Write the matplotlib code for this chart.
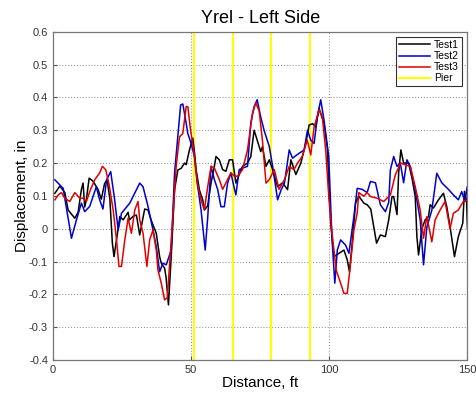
import matplotlib
matplotlib.use("Agg")
import matplotlib.pyplot as plt

plt.rcParams['font.family'] = ['Liberation Sans', 'DejaVu Sans']

# Test1 (black)
x1 = [0.7, 2.5, 4.3, 5.5, 7.9, 9.1, 10.3, 10.9, 11.5, 12.1, 13.1, 14.5, 16.3, 17.5, 18.7, 19.6,
      20.6, 21.5, 22.1, 23.0, 24.2, 25.4, 27.2, 27.7, 28.9, 30.2, 31.4, 33.2, 34.4, 35.5, 37.4,
      38.6, 39.2, 40.4, 40.9, 41.8, 42.8, 44.0, 45.2, 46.4, 47.6, 48.2, 49.4, 50.6, 51.2, 51.8,
      53.0, 54.2, 54.8, 56.0, 57.2, 58.4, 59.0, 60.2, 61.4, 62.6, 63.8, 65.0, 66.2, 67.4, 68.6,
      70.4, 71.6, 72.8, 73.9, 75.2, 75.8, 77.1, 78.3, 79.5, 81.3, 83.1, 84.9, 86.1, 87.9, 89.7,
      91.5, 92.7, 94.0, 95.1, 96.3, 98.1, 99.3, 100.5, 101.7, 103.5, 105.3, 106.5, 107.3, 108.3,
      109.5, 110.7, 112.5, 113.7, 115.0, 117.1, 118.5, 120.3, 121.5, 122.7, 123.3, 124.5, 125.1,
      125.9, 126.9, 128.7, 129.9, 131.1, 131.7, 132.3, 133.5, 134.7, 135.9, 136.5, 137.7, 139.5,
      141.3, 142.5, 143.7, 145.3, 146.7, 148.3, 148.9, 149.7, 150.0]
y1 = [0.108, 0.13, 0.11, 0.057, 0.032, 0.05, 0.12, 0.139, 0.066, 0.09, 0.154, 0.145, 0.12, 0.09,
      0.138, 0.149, 0.09, -0.044, -0.085, -0.034, 0.037, 0.027, 0.05, 0.027, 0.037, 0.042, -0.019,
      0.06, 0.057, 0.027, -0.014, -0.085, -0.105, -0.12, -0.146, -0.232, -0.085, 0.118, 0.179,
      0.184, 0.2, 0.195, 0.24, 0.276, 0.235, 0.18, 0.118, 0.088, 0.057, 0.07, 0.139, 0.19, 0.22,
      0.21, 0.18, 0.175, 0.21, 0.21, 0.139, 0.165, 0.19, 0.2, 0.22, 0.30, 0.27, 0.235, 0.25, 0.19,
      0.21, 0.18, 0.128, 0.14, 0.119, 0.21, 0.165, 0.2, 0.26, 0.316, 0.32, 0.31, 0.367, 0.32,
      0.245, 0.016, -0.085, -0.075, -0.065, -0.095, -0.131, -0.044, 0.078, 0.099, 0.078, 0.073,
      0.06, -0.044, -0.019, -0.024, 0.027, 0.098, 0.098, 0.043, 0.17, 0.24, 0.2, 0.2, 0.155,
      0.098, -0.024, -0.08, 0.0, 0.027, 0.037, 0.073, 0.063, 0.088, 0.108, 0.068, 0.006, -0.085,
      -0.024, 0.017, 0.114, 0.083, 0.0]

# Test2 (blue)
x2 = [0.7, 3.7, 6.7, 8.5, 10.3, 11.5, 13.3, 15.7, 16.9, 18.1, 19.4, 20.9, 22.3, 23.6, 24.8,
      27.8, 31.4, 32.6, 34.4, 36.2, 37.4, 38.6, 39.8, 41.0, 42.8, 44.0, 46.2, 47.0, 48.2, 48.8,
      50.0, 51.2, 52.4, 53.6, 55.1, 56.0, 57.2, 58.4, 59.6, 60.8, 62.0, 63.2, 64.4, 65.7, 66.2,
      67.4, 68.6, 70.4, 71.6, 72.8, 73.9, 75.2, 76.4, 78.3, 79.5, 81.3, 82.6, 83.8, 85.5, 86.7,
      89.1, 90.9, 92.1, 93.3, 94.5, 95.7, 96.9, 98.1, 99.8, 101.0, 102.0, 102.9, 104.1, 105.9,
      107.1, 108.9, 110.1, 111.9, 113.7, 114.9, 116.7, 118.5, 120.3, 121.5, 122.1, 123.3, 124.5,
      125.7, 126.9, 128.1, 129.3, 131.1, 132.9, 134.1, 135.3, 137.1, 138.9, 140.7, 143.1, 144.9,
      146.7, 147.9, 149.1, 149.9]
y2 = [0.149, 0.123, -0.029, 0.027, 0.078, 0.052, 0.068, 0.128, 0.088, 0.06, 0.149, 0.174, 0.09,
      -0.004, 0.047, 0.078, 0.139, 0.128, 0.068, -0.004, -0.055, -0.131, -0.105, -0.11, -0.065,
      0.169, 0.377, 0.38, 0.322, 0.29, 0.26, 0.22, 0.128, 0.057, -0.065, 0.034, 0.19, 0.15, 0.12,
      0.067, 0.067, 0.139, 0.17, 0.12, 0.103, 0.18, 0.185, 0.19, 0.322, 0.372, 0.393, 0.34, 0.3,
      0.25, 0.19, 0.088, 0.119, 0.14, 0.24, 0.215, 0.23, 0.24, 0.30, 0.27, 0.26, 0.342, 0.393,
      0.33, 0.22, -0.034, -0.166, -0.065, -0.034, -0.05, -0.075, 0.037, 0.123, 0.12, 0.11, 0.144,
      0.14, 0.073, 0.052, 0.08, 0.179, 0.22, 0.19, 0.2, 0.14, 0.21, 0.19, 0.118, 0.027, -0.11,
      0.005, 0.056, 0.169, 0.14, 0.12, 0.103, 0.088, 0.113, 0.083, 0.127]

# Test3 (red)
x3 = [0.7, 1.9, 3.1, 4.3, 6.1, 7.9, 9.7, 10.9, 12.1, 13.3, 15.1, 16.9, 17.9, 19.1, 20.3, 21.8,
      23.0, 23.9, 24.8, 26.0, 27.2, 28.4, 29.6, 30.8, 31.4, 32.6, 34.0, 35.0, 36.2, 37.4, 38.0,
      39.2, 40.4, 41.4, 42.2, 43.4, 44.6, 45.8, 47.0, 48.2, 48.8, 49.8, 51.0, 52.2, 53.6, 54.8,
      56.0, 57.2, 58.4, 60.2, 61.4, 63.2, 64.4, 65.7, 66.8, 68.6, 70.4, 72.2, 73.4, 74.6, 75.8,
      77.1, 78.3, 80.1, 81.8, 83.8, 85.5, 87.2, 88.5, 90.2, 92.0, 93.3, 94.5, 96.3, 97.5, 98.7,
      99.9, 101.0, 102.5, 104.1, 105.3, 106.5, 107.7, 108.9, 110.1, 110.7, 112.5, 113.7, 114.9,
      117.3, 119.7, 122.1, 123.9, 125.8, 127.5, 129.3, 131.1, 132.9, 134.1, 135.3, 137.1, 138.3,
      140.1, 141.9, 143.7, 144.9, 146.7, 148.5, 150.0]
y3 = [0.088, 0.103, 0.11, 0.093, 0.083, 0.11, 0.093, 0.093, 0.083, 0.113, 0.149, 0.17, 0.19,
      0.18, 0.135, 0.057, -0.034, -0.115, -0.115, -0.034, 0.032, -0.014, 0.057, 0.083, 0.027,
      -0.014, -0.115, -0.034, -0.004, -0.065, -0.126, -0.166, -0.217, -0.21, -0.11, 0.037, 0.19,
      0.28, 0.29, 0.372, 0.372, 0.30, 0.235, 0.139, 0.088, 0.057, 0.128, 0.19, 0.185, 0.15, 0.12,
      0.15, 0.17, 0.16, 0.16, 0.18, 0.24, 0.352, 0.383, 0.36, 0.27, 0.139, 0.15, 0.18, 0.12, 0.15,
      0.19, 0.18, 0.2, 0.22, 0.27, 0.225, 0.31, 0.362, 0.34, 0.24, 0.088, -0.014, -0.126, -0.166,
      -0.197, -0.197, -0.105, -0.004, 0.048, 0.11, 0.099, 0.11, 0.098, 0.093, 0.083, 0.103, 0.164,
      0.2, 0.195, 0.19, 0.128, 0.057, -0.029, 0.037, -0.04, 0.027, 0.057, 0.083, 0.0, 0.047,
      0.057, 0.083, 0.088]

piers = [51, 65, 79, 93]
xticks = [0, 50, 100, 150]
yticks = [-0.4, -0.3, -0.2, -0.1, 0, 0.1, 0.2, 0.3, 0.4, 0.5, 0.6]
ytick_labels = ['-0.4', '-0.3', '-0.2', '-0.1', '0', '0.1', '0.2', '0.3', '0.4', '0.5', '0.6']

fig = plt.figure(figsize=(4.77, 3.94), dpi=100)
ax = fig.add_axes([0.111, 0.0863, 0.869, 0.833])

ax.plot(x1, y1, color='black', lw=1.1, label='Test1', zorder=3)
ax.plot(x2, y2, color='#0000cc', lw=1.1, label='Test2', zorder=3)
ax.plot(x3, y3, color='#e00000', lw=1.1, label='Test3', zorder=3)
for i, p in enumerate(piers):
    ax.axvline(p, color='#ffff00', lw=1.5, label='Pier' if i == 0 else None, zorder=2)

ax.set_xlim(0, 150)
ax.set_ylim(-0.4, 0.6)
ax.set_xticks(xticks)
ax.set_yticks(yticks)
ax.set_yticklabels(ytick_labels)
ax.tick_params(labelsize=8, direction='in', length=3, color='#555555', labelcolor='#333333')
ax.grid(True, linestyle=(0, (1, 2)), color='#888888', lw=0.7)
for s in ax.spines.values():
    s.set_color('#777777')
    s.set_linewidth(0.9)

ax.set_title('Yrel - Left Side', fontsize=13, pad=6)
ax.set_xlabel('Distance, ft', fontsize=11, labelpad=1)
ax.set_ylabel('Displacement, in', fontsize=11, labelpad=0)

leg = ax.legend(loc='upper right', fontsize=7.5, frameon=True, fancybox=False,
                borderaxespad=0.5, handlelength=3.0, labelspacing=0.1, borderpad=0.3,
                handletextpad=0.4)
leg.get_frame().set_edgecolor('black')
leg.get_frame().set_linewidth(0.8)

fig.savefig('out.png', dpi=100)
